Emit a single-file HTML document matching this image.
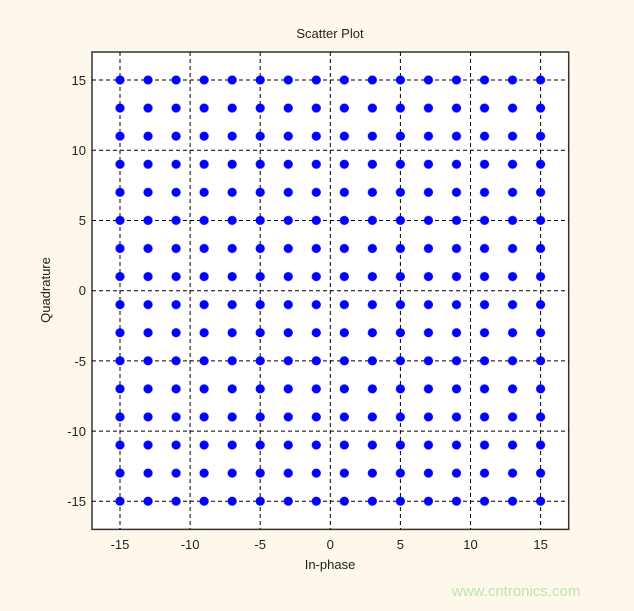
<!DOCTYPE html>
<html><head><style>
body{margin:0;background:#fef8ec;}
text{font-family:"Liberation Sans",sans-serif;font-size:13px;fill:#222;}
</style></head><body>
<svg width="634" height="606" xmlns="http://www.w3.org/2000/svg">
<defs>
<pattern id="p" patternUnits="userSpaceOnUse" x="105.98" y="65.96" width="28.04" height="28.08">
<circle cx="14.02" cy="14.04" r="4.6" fill="#0000ff"/>
</pattern>
</defs>
<rect width="634" height="606" fill="#fef8ec"/>
<rect x="92" y="52" width="476.7" height="477.4" fill="#fff" stroke="#333" stroke-width="1.5"/>
<g stroke="#000" stroke-width="1" stroke-dasharray="4,3">
<line x1="120" y1="52" x2="120" y2="529.4"/><line x1="190.1" y1="52" x2="190.1" y2="529.4"/>
<line x1="260.2" y1="52" x2="260.2" y2="529.4"/><line x1="330.3" y1="52" x2="330.3" y2="529.4"/>
<line x1="400.4" y1="52" x2="400.4" y2="529.4"/><line x1="470.5" y1="52" x2="470.5" y2="529.4"/>
<line x1="540.6" y1="52" x2="540.6" y2="529.4"/>
<line x1="92" y1="80" x2="568.7" y2="80"/><line x1="92" y1="150.2" x2="568.7" y2="150.2"/>
<line x1="92" y1="220.5" x2="568.7" y2="220.5"/><line x1="92" y1="290.7" x2="568.7" y2="290.7"/>
<line x1="92" y1="360.9" x2="568.7" y2="360.9"/><line x1="92" y1="431.1" x2="568.7" y2="431.1"/>
<line x1="92" y1="501.3" x2="568.7" y2="501.3"/>
</g>
<rect x="105.98" y="65.96" width="448.64" height="449.28" fill="url(#p)"/>
<g text-anchor="middle">
<text x="120" y="549">-15</text><text x="190.1" y="549">-10</text><text x="260.2" y="549">-5</text>
<text x="330.3" y="549">0</text><text x="400.4" y="549">5</text><text x="470.5" y="549">10</text><text x="540.6" y="549">15</text>
<text x="330" y="569">In-phase</text>
<text x="330" y="38">Scatter Plot</text>
</g>
<g text-anchor="end">
<text x="86" y="85">15</text><text x="86" y="155">10</text><text x="86" y="225">5</text>
<text x="86" y="295">0</text><text x="86" y="366">-5</text><text x="86" y="436">-10</text><text x="86" y="506">-15</text>
</g>
<text x="50" y="290" text-anchor="middle" transform="rotate(-90 50 290)">Quadrature</text>
<text x="452" y="596" style="font-size:15px;fill:#bfe3b0">www.cntronics.com</text>
</svg>
</body></html>
